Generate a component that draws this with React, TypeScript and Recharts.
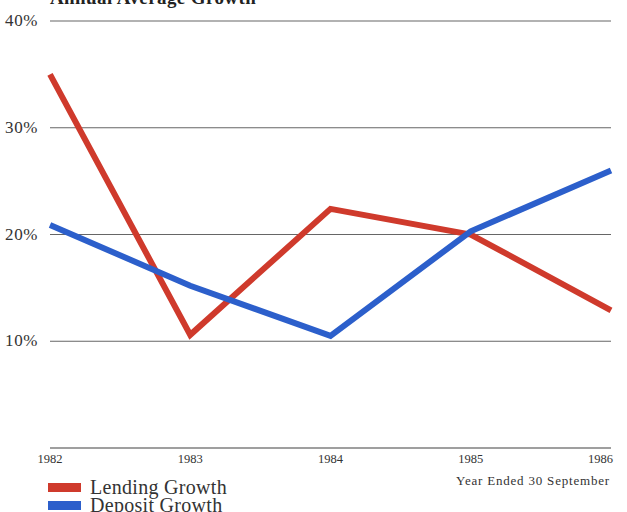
import React from 'react';
import { LineChart, Line, XAxis, YAxis, CartesianGrid } from 'recharts';

const years = ['1982', '1983', '1984', '1985', '1986'];
const lendingGrowth = [35, 10.6, 22.4, 20, 12.9];
const depositGrowth = [20.9, 15.2, 10.5, 20.3, 26];
const yTicks = [0, 10, 20, 30, 40];
const seriesNames = ['Lending Growth', 'Deposit Growth'];
const seriesColors = ['#cf3a2c', '#2c5fcb'];

const data = years.map((y, i) => ({ year: y, lending: lendingGrowth[i], deposit: depositGrowth[i] }));

const serif = '"Liberation Serif", "DejaVu Serif", serif';

const XTick = (props: any) => {
  const { x, y, payload, index } = props;
  const last = index === years.length - 1;
  return (
    <text x={last ? x + 2 : x} y={y + 7} textAnchor={last ? 'end' : 'middle'} fontFamily={serif} fontSize={12.5} fill="#333">
      {payload.value}
    </text>
  );
};

const YTick = (props: any) => {
  const { x, y, payload } = props;
  if (payload.value === 0) return null;
  return (
    <text x={x - 4} y={y + 5} textAnchor="end" fontFamily={serif} fontSize={17} letterSpacing={0.6} fill="#333">
      {payload.value}%
    </text>
  );
};

export default function App() {
  return (
    <div style={{ position: 'absolute', left: 0, top: 0, width: 627, height: 512, background: '#fff', overflow: 'hidden' }}>
      <div style={{ position: 'absolute', left: 50, top: -13, fontFamily: serif, fontWeight: 'bold', fontSize: 19, letterSpacing: 0.4, color: '#222' }}>
        Annual Average Growth
      </div>
      <LineChart width={627} height={512} data={data} margin={{ top: 21, right: 16, bottom: 34, left: 0 }}>
        <CartesianGrid vertical={false} stroke="#666" strokeWidth={1.2} horizontalValues={yTicks} />
        <XAxis dataKey="year" height={30} axisLine={{ stroke: '#999', strokeWidth: 1.5 }} tickLine={false} tick={<XTick />} interval={0} />
        <YAxis domain={[0, 40]} ticks={yTicks} axisLine={false} tickLine={false} width={50} tick={<YTick />} />
        <Line dataKey="lending" stroke={seriesColors[0]} strokeWidth={6} dot={false} isAnimationActive={false} strokeLinejoin="miter" />
        <Line dataKey="deposit" stroke={seriesColors[1]} strokeWidth={6} dot={false} isAnimationActive={false} strokeLinejoin="miter" />
      </LineChart>
      <div style={{ position: 'absolute', left: 456, top: 473, fontFamily: serif, fontSize: 13, letterSpacing: 0.8, color: '#333' }}>
        Year Ended 30 September
      </div>
      {seriesNames.map((name, i) => (
        <div key={name} style={{ position: 'absolute', left: 48, top: 478 + i * 18, display: 'flex', alignItems: 'center', fontFamily: serif, fontSize: 20, letterSpacing: 0.3, color: '#333', lineHeight: '18px' }}>
          <span style={{ display: 'inline-block', width: 33, height: 9, background: seriesColors[i], marginRight: 9 }} />
          {name}
        </div>
      ))}
    </div>
  );
}
